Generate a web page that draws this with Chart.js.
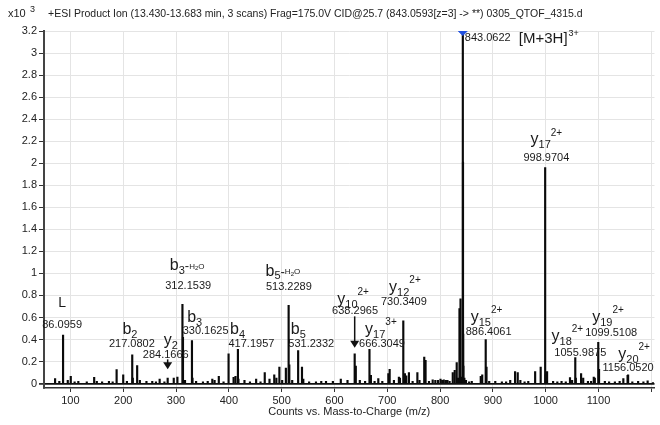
<!DOCTYPE html>
<html>
<head>
<meta charset="utf-8">
<script src="https://cdn.jsdelivr.net/npm/chart.js@4.4.1/dist/chart.umd.min.js"></script>
<style>
	html, body { margin: 0; padding: 0; background: #fff; }
	#wrap { width: 660px; height: 425px; }
</style>
</head>
<body>
<div id="wrap"><canvas id="msCanvas" width="660" height="425"></canvas></div>
<script>

// peaks: m/z and counts (x10^3)
var peakMz = [
	71, 79, 86.1, 95, 100.7, 108, 115, 131, 145, 150, 160, 173, 180, 187.5, 200, 207,
	217.08, 218.1, 226.4, 231.5, 244, 255, 262, 269, 278, 284.17, 295.7, 302.6,
	312.15, 313.15, 317, 330.16, 331.2, 338, 351, 360, 368.7, 373, 381, 390,
	399.5, 409, 412.6, 417.2, 418.2, 429.6, 440, 451.7, 460, 468, 477, 486, 490,
	495.7, 501, 508, 513.23, 514.5, 520, 531.23, 538.5, 541, 552, 565, 575, 584,
	597, 612, 624.7, 638.3, 640.4, 648, 658, 666.3, 669, 676, 683, 690.6, 702,
	704.5, 712.6, 722, 724, 730.34, 733.4, 736, 741, 748, 757, 761, 770, 772.5,
	779, 786, 791, 796, 800.8, 804, 807, 811, 814, 818, 824, 827.7, 831.5, 834,
	836.7, 838.7, 840.5, 843.06, 843.39, 843.73, 844.07, 846, 849, 855, 860,
	877, 879.8, 886.4, 887.9, 893, 904.5, 917, 925, 932.8, 942, 947, 952, 960,
	967, 980, 990.5, 998.97, 1000, 1002.6, 1014, 1022, 1030, 1038, 1046, 1050,
	1055.99, 1057, 1067, 1071, 1080, 1086, 1091, 1093, 1099.51, 1101, 1112, 1120,
	1131, 1140, 1147, 1155, 1156.05, 1164, 1175, 1185, 1193, 1203
];
var peakCounts = [
	0.045, 0.02, 0.44, 0.03, 0.066, 0.015, 0.02, 0.015, 0.057, 0.02, 0.015, 0.02, 0.015, 0.127, 0.08, 0.02,
	0.26, 0.05, 0.163, 0.03, 0.02, 0.02, 0.015, 0.04, 0.015, 0.05, 0.05, 0.06,
	0.72, 0.42, 0.03, 0.39, 0.05, 0.02, 0.015, 0.02, 0.04, 0.03, 0.066, 0.015,
	0.27, 0.057, 0.066, 0.31, 0.04, 0.03, 0.015, 0.04, 0.015, 0.10, 0.04, 0.08, 0.05,
	0.15, 0.03, 0.14, 0.71, 0.17, 0.03, 0.30, 0.15, 0.04, 0.015, 0.015, 0.02, 0.02,
	0.02, 0.04, 0.03, 0.27, 0.16, 0.03, 0.02, 0.31, 0.075, 0.02, 0.045, 0.02, 0.09,
	0.13, 0.03, 0.06, 0.05, 0.57, 0.09, 0.07, 0.10, 0.02, 0.10, 0.03, 0.24, 0.21,
	0.02, 0.035, 0.03, 0.03, 0.04, 0.03, 0.035, 0.03, 0.03, 0.02, 0.10, 0.12, 0.19, 0.05,
	0.68, 0.77, 0.06, 3.2, 2.01, 0.45, 0.16, 0.05, 0.03, 0.015, 0.02,
	0.066, 0.08, 0.40, 0.15, 0.02, 0.02, 0.015, 0.015, 0.03, 0.11, 0.10, 0.03, 0.015,
	0.02, 0.11, 0.15, 1.96, 0.08, 0.11, 0.02, 0.015, 0.02, 0.015, 0.055, 0.03,
	0.235, 0.05, 0.09, 0.05, 0.02, 0.02, 0.06, 0.05, 0.375, 0.13, 0.02, 0.015,
	0.015, 0.02, 0.045, 0.075, 0.08, 0.015, 0.02, 0.015, 0.025, 0.01
];

// precursor marker (blue diamond)
var precursorMz = [843.06];
var precursorCounts = [3.2];

// axis ticks
var xTickValues = [100, 200, 300, 400, 500, 600, 700, 800, 900, 1000, 1100, 1200];
var yTickValues = [0, 0.2, 0.4, 0.6, 0.8, 1, 1.2, 1.4, 1.6, 1.8, 2, 2.2, 2.4, 2.6, 2.8, 3, 3.2];

// fragment annotations
var ionBase = ['L', 'b', 'y', 'b', 'b', 'b', 'b', 'b', 'y', 'y', 'y', 'y', 'y', 'y', 'y', 'y'];
var ionSub  = ['', '2', '2', '3', '3', '4', '5', '5', '10', '17', '12', '15', '17', '18', '19', '20'];
var ionSup  = ['', '', '', '', '', '', '', '', '2+', '3+', '2+', '2+', '2+', '2+', '2+', '2+'];
var ionLoss = ['', '', '', 'H2O', '', '', 'H2O', '', '', '', '', '', '', '', '', ''];
var ionLabelMz    = [84.3, 212.8, 290, 321.1, 335.3, 416.4, 502.3, 531.5, 635.3, 688, 733.4, 888, 1001.3, 1041, 1118, 1167.4];
var ionLabelLevel = [0.734, 0.49, 0.39, 1.07, 0.598, 0.49, 1.02, 0.49, 0.762, 0.49, 0.87, 0.598, 2.212, 0.426, 0.598, 0.263];
var massText  = ['86.0959', '217.0802', '284.1666', '312.1539', '330.1625', '417.1957', '513.2289', '531.2332',
	'638.2965', '666.3049', '730.3409', '886.4061', '998.9704', '1055.9875', '1099.5108', '1156.0520'];
var massMz    = [84.3, 216.4, 280.6, 323, 356, 442.8, 513.6, 556, 639, 690, 731.5, 891.9, 1001.3, 1065.5, 1124, 1156];
var massLevel = [0.535, 0.363, 0.263, 0.882, 0.48, 0.363, 0.873, 0.363, 0.662, 0.363, 0.743, 0.471, 2.049, 0.281, 0.462, 0.145];

// arrows pointing at y2 and y10(2+)
var arrowMz   = [284.17, 638.3];
var arrowFrom = [0.22, 0.61];
var arrowTo   = [0.13, 0.325];

var FONT = "'Liberation Sans', Arial, sans-serif";

function drawIon(ctx, cx, cy, base, sub, sup, loss) {
	var segs = [{ t: base, f: base === 'L' ? 14 : 16, dy: 0 }];
	if (sub) segs.push({ t: sub, f: 11, dy: 5 });
	if (loss) {
		segs.push({ t: '-', f: 13, dy: 1 });
		segs.push({ t: 'H', f: 8, dy: 1 });
		segs.push({ t: '2', f: 6, dy: 3 });
		segs.push({ t: 'O', f: 8, dy: 1 });
	}
	if (sup) segs.push({ t: sup, f: 10, dy: -7 });
	var w = 0;
	segs.forEach(function (s) {
		ctx.font = s.f + 'px ' + FONT;
		s.w = ctx.measureText(s.t).width;
		w += s.w;
	});
	var x = cx - w / 2;
	ctx.textAlign = 'left';
	segs.forEach(function (s) {
		ctx.font = s.f + 'px ' + FONT;
		ctx.fillText(s.t, x, cy + s.dy);
		x += s.w;
	});
}

var labelPlugin = {
	id: 'spectrumLabels',
	afterDatasetsDraw: function (chart) {
		var ctx = chart.ctx, xs = chart.scales.x, ys = chart.scales.y;
		ctx.save();
		ctx.fillStyle = '#1a1a1a';
		ctx.textBaseline = 'middle';

		for (var i = 0; i < ionBase.length; i++) {
			drawIon(ctx, xs.getPixelForValue(ionLabelMz[i]), ys.getPixelForValue(ionLabelLevel[i]),
				ionBase[i], ionSub[i], ionSup[i], ionLoss[i]);
		}
		ctx.font = '11px ' + FONT;
		ctx.textAlign = 'center';
		for (var j = 0; j < massText.length; j++) {
			ctx.fillText(massText[j], xs.getPixelForValue(massMz[j]), ys.getPixelForValue(massLevel[j]));
		}

		// precursor label
		var px = xs.getPixelForValue(precursorMz[0]);
		var py = ys.getPixelForValue(precursorCounts[0]);
		ctx.textAlign = 'left';
		ctx.font = '11px ' + FONT;
		ctx.fillText('843.0622', px + 2, py + 7);
		ctx.font = '15px ' + FONT;
		ctx.fillText('[M+3H]', px + 56, py + 8);
		var mw = ctx.measureText('[M+3H]').width;
		ctx.font = '9px ' + FONT;
		ctx.fillText('3+', px + 56 + mw + 1, py + 3);

		// arrows
		ctx.strokeStyle = '#111';
		ctx.fillStyle = '#111';
		ctx.lineWidth = 1.5;
		for (var k = 0; k < arrowMz.length; k++) {
			var ax = xs.getPixelForValue(arrowMz[k]);
			var y1 = ys.getPixelForValue(arrowFrom[k]);
			var y2 = ys.getPixelForValue(arrowTo[k]);
			ctx.beginPath();
			ctx.moveTo(ax, y1);
			ctx.lineTo(ax, y2 - 5);
			ctx.stroke();
			ctx.beginPath();
			ctx.moveTo(ax - 4.5, y2 - 7);
			ctx.lineTo(ax + 4.5, y2 - 7);
			ctx.lineTo(ax, y2);
			ctx.closePath();
			ctx.fill();
		}
		ctx.restore();
	},
	afterDraw: function (chart) {
		var ctx = chart.ctx;
		ctx.save();
		ctx.fillStyle = '#222';
		ctx.textBaseline = 'middle';
		ctx.textAlign = 'left';
		ctx.font = '11px ' + FONT;
		ctx.fillText('x10', 8, 14);
		ctx.font = '9px ' + FONT;
		ctx.fillText('3', 30, 10);
		ctx.font = '10.5px ' + FONT;
		ctx.fillText('+ESI Product Ion (13.430-13.683 min, 3 scans) Frag=175.0V CID@25.7 (843.0593[z=3] -> **) 0305_QTOF_4315.d', 48, 14);
		ctx.restore();
	}
};

var peaks = [];
for (var i = 0; i < peakMz.length; i++) {
	peaks.push({ x: peakMz[i], y: peakCounts[i] });
}

new Chart(document.getElementById('msCanvas').getContext('2d'), {
	type: 'bar',
	data: {
		datasets: [
			{
				type: 'scatter',
				data: [{ x: precursorMz[0], y: precursorCounts[0] }],
				pointStyle: 'rectRot',
				pointRadius: 4.5,
				backgroundColor: '#2050e0',
				borderColor: '#2050e0',
				order: 0
			},
			{
				data: peaks,
				backgroundColor: '#0a0a0a',
				barThickness: 1.5,
				order: 1
			}
		]
	},
	options: {
		responsive: false,
		animation: false,
		devicePixelRatio: 1,
		layout: { padding: { top: 31, right: 3, left: 0, bottom: 0 } },
		plugins: {
			legend: { display: false },
			tooltip: { enabled: false }
		},
		scales: {
			x: {
				type: 'linear',
				min: 50,
				max: 1206,
				offset: false,
				grid: { offset: false, color: '#e4e4e4', tickLength: 4, tickColor: '#333' },
				border: { color: '#333', width: 1.5 },
				afterBuildTicks: function (scale) {
					scale.ticks = xTickValues.map(function (v) { return { value: v }; });
				},
				afterFit: function (scale) { scale.height = 37; },
				ticks: {
					autoSkip: false,
					maxRotation: 0,
					padding: 2,
					color: '#222',
					font: { family: FONT, size: 11 },
					callback: function (v) { return v === 1200 ? '' : v; }
				},
				title: {
					display: true,
					text: 'Counts vs. Mass-to-Charge (m/z)',
					color: '#222',
					font: { family: FONT, size: 11 },
					padding: { top: 0, bottom: 6 }
				}
			},
			y: {
				min: -0.04,
				max: 3.2,
				grid: {
					color: function (c) { return c.tick && c.tick.value === 0 ? '#111' : '#e4e4e4'; },
					lineWidth: function (c) { return c.tick && c.tick.value === 0 ? 1.8 : 1; },
					tickLength: 5,
					tickColor: '#333'
				},
				border: { color: '#444', width: 2 },
				afterBuildTicks: function (scale) {
					scale.ticks = yTickValues.map(function (v) { return { value: v }; });
				},
				afterFit: function (scale) { scale.width = 44; },
				ticks: {
					padding: 2,
					color: '#222',
					font: { family: FONT, size: 11 },
					callback: function (v) { return String(+v.toFixed(1)); }
				}
			}
		}
	},
	plugins: [labelPlugin]
});
</script>
</body>
</html>
